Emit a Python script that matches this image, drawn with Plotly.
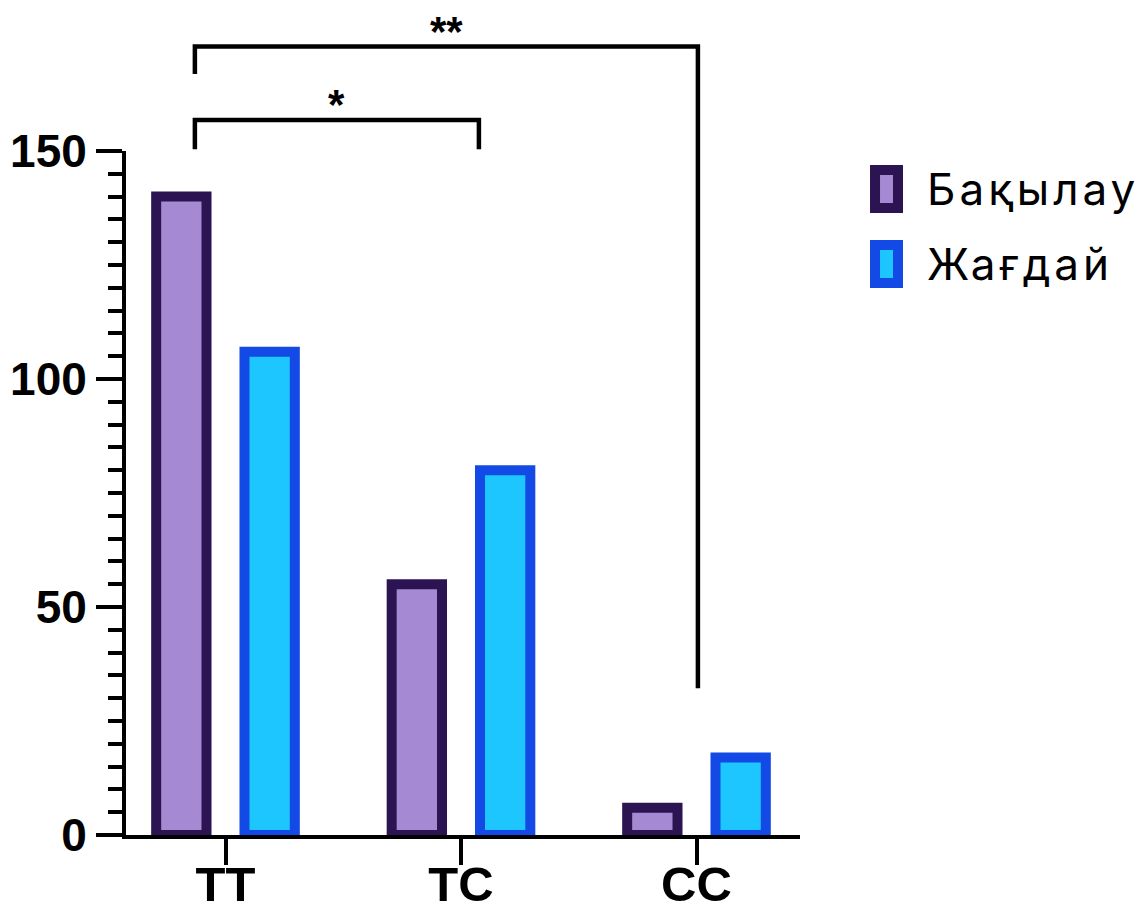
import plotly.graph_objects as go

# Genotype groups and counts per cohort
categories = ["TT", "TC", "CC"]
series_names = ["Бақылау", "Жағдай"]
control_counts = [140, 55, 6]
case_counts = [106, 80, 17]

# Significance brackets: (left x, right x, top height, left drop, right drop, label)
bracket_left_x = [-0.13, -0.13]
bracket_right_x = [1.076, 2.006]
bracket_top = [156.8, 172.9]
bracket_left_end = [150.4, 166.9]
bracket_right_end = [150.4, 32.2]
bracket_labels = ["*", "**"]

Y_MAX = 150
fill_colors = ["#A589D2", "#1DC6FF"]
edge_colors = ["#2C1452", "#1349E4"]

x_idx = list(range(len(categories)))

fig = go.Figure()
for name, vals, fc, ec in zip(series_names, [control_counts, case_counts], fill_colors, edge_colors):
    fig.add_trace(go.Bar(
        x=x_idx, y=vals, name=name,
        marker=dict(color=fc, line=dict(color=ec, width=10)),
        showlegend=False,
    ))

shapes = []
annotations = []
for xl, xr, top, le, re_, lab in zip(bracket_left_x, bracket_right_x, bracket_top,
                                      bracket_left_end, bracket_right_end, bracket_labels):
    path = (f"M {xl},{le / Y_MAX} L {xl},{top / Y_MAX} "
            f"L {xr},{top / Y_MAX} L {xr},{re_ / Y_MAX}")
    shapes.append(dict(type="path", path=path, xref="x", yref="paper",
                       line=dict(color="black", width=4.5)))
    annotations.append(dict(x=(xl + xr) / 2, y=top / Y_MAX, xref="x", yref="paper",
                            text=lab, showarrow=False, yanchor="bottom", yshift=-10,
                            font=dict(family="Liberation Sans", size=42, color="black",
                                      weight="bold")))

# Legend drawn as outlined swatches with labels
legend_y = [0.9444, 0.8348]
for name, fc, ec, yc in zip(series_names, fill_colors, edge_colors, legend_y):
    shapes.append(dict(type="rect", xref="paper", yref="paper",
                       x0=1.1113, x1=1.1454, y0=yc - 0.0278, y1=yc + 0.0278,
                       fillcolor=fc, line=dict(color=ec, width=10)))
    annotations.append(dict(x=1.1855, y=yc, xref="paper", yref="paper",
                            text=f'<span style="letter-spacing:4px">{name}</span>',
                            showarrow=False, xanchor="left", yanchor="middle",
                            font=dict(family="Inter", size=44, color="black")))

fig.update_layout(
    width=1143, height=915,
    margin=dict(l=126, r=343, t=151, b=80),
    plot_bgcolor="white", paper_bgcolor="white",
    barmode="group", bargap=0.25, bargroupgap=0.43,
    shapes=shapes, annotations=annotations,
    xaxis=dict(
        range=[-0.4225, 2.4395], tickvals=x_idx, ticktext=categories,
        automargin=False, ticklabelstandoff=-23,
        showline=True, linecolor="black", linewidth=4,
        ticks="outside", ticklen=26, tickwidth=4, tickcolor="black",
        showgrid=False, zeroline=False,
        tickfont=dict(family="Liberation Sans", size=49, color="black", weight="bold"),
    ),
    yaxis=dict(
        range=[0, Y_MAX], tickvals=[0, 50, 100, 150],
        automargin=False,
        showline=True, linecolor="black", linewidth=4,
        ticks="outside", ticklen=26, tickwidth=4, tickcolor="black",
        minor=dict(dtick=5, ticks="outside", ticklen=14, tickwidth=4, tickcolor="black"),
        showgrid=False, zeroline=False,
        tickfont=dict(family="Liberation Sans", size=46, color="black", weight="bold"),
    ),
)

fig.write_html("out.html")
